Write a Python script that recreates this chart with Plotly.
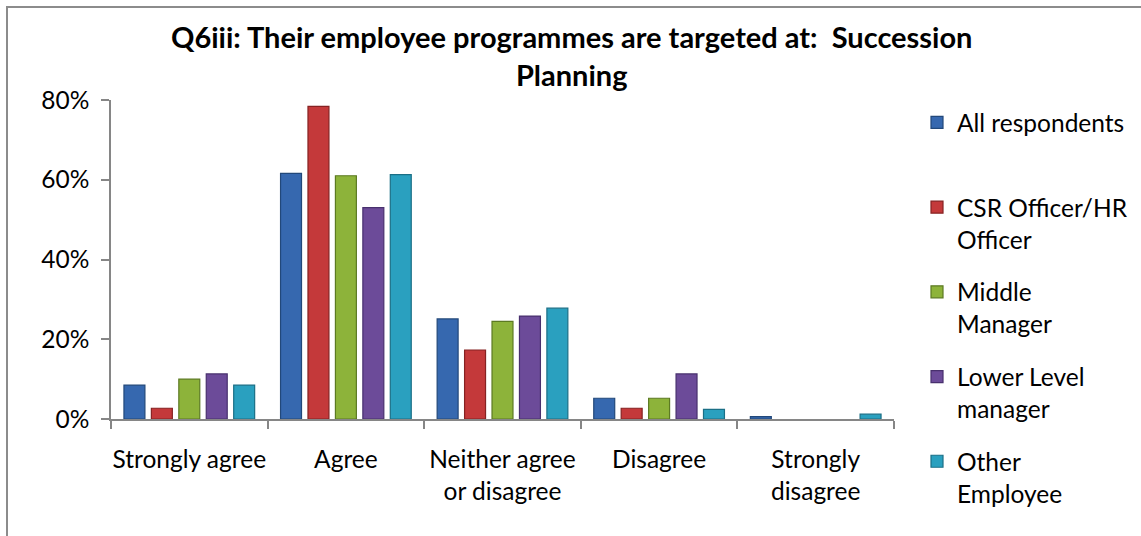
import plotly.graph_objects as go

# Survey answers (share of respondents in each group)
categories = ["Strongly agree", "Agree", "Neither agree or disagree", "Disagree", "Strongly disagree"]
category_labels = ["Strongly agree", "Agree", "Neither agree<br>or disagree", "Disagree", "Strongly<br>disagree"]

groups = ["All respondents", "CSR Officer/HR Officer", "Middle Manager", "Lower Level manager", "Other Employee"]
legend_labels = ["All respondents<br> ", "CSR Officer/HR<br>Officer", "Middle<br>Manager", "Lower Level<br>manager", "Other<br>Employee"]

all_respondents = [0.085, 0.616, 0.251, 0.052, 0.006]
csr_hr_officer = [0.027, 0.784, 0.173, 0.027, 0.0]
middle_manager = [0.100, 0.610, 0.245, 0.052, 0.0]
lower_level_manager = [0.113, 0.530, 0.258, 0.113, 0.0]
other_employee = [0.085, 0.613, 0.278, 0.024, 0.012]

title_text = "Q6iii: Their employee programmes are targeted at:  Succession<br>Planning"

series = [all_respondents, csr_hr_officer, middle_manager, lower_level_manager, other_employee]
fill_colors = ["#3668AF", "#C4393A", "#8DB33A", "#6C4B99", "#2AA0BF"]
edge_colors = ["#22487A", "#862222", "#5C7A22", "#48306E", "#1B6F86"]

W, H = 1141, 536
L, R, T, B = 111, 247, 100, 117
PW, PH = W - L - R, H - T - B
FONT = "Lato, 'Open Sans', sans-serif"
FS = 24.5

fig = go.Figure()
for name, label, vals, fc, ec in zip(groups, legend_labels, series, fill_colors, edge_colors):
    fig.add_trace(go.Bar(
        x=categories, y=vals, name=label, legendgroup=name,
        marker=dict(color=fc, line=dict(color=ec, width=[1.2 if v > 0 else 0 for v in vals])),
        hovertemplate=name + ": %{y:.1%}<extra></extra>",
    ))

fig.update_layout(
    width=W, height=H,
    margin=dict(l=L, r=R, t=T, b=B, autoexpand=False),
    paper_bgcolor="white", plot_bgcolor="white",
    font=dict(family=FONT, size=FS, color="#000000"),
    barmode="group", bargap=0.124, bargroupgap=0.236,
    legend=dict(
        x=(917 - L) / PW, xanchor="left",
        y=1.0, yanchor="top",
        valign="top", tracegroupgap=18, maxheight=H,
        font=dict(family=FONT, size=FS, color="#000000"),
        bgcolor="rgba(0,0,0,0)",
    ),
    showlegend=True,
    annotations=[dict(
        text=title_text, showarrow=False,
        xref="paper", x=(571 - L) / PW, xanchor="center",
        yref="paper", y=1 + (T - 17) / PH, yanchor="top",
        font=dict(family=FONT, size=29, color="#000000", weight="bold"),
    )],
    shapes=[dict(
        type="rect", xref="paper", yref="paper",
        x0=(7 - L) / PW, x1=(W + 20 - L) / PW,
        y0=-(B + 20) / PH, y1=1 + (T - 7) / PH,
        line=dict(color="#8C8C8C", width=2), fillcolor="rgba(0,0,0,0)", layer="below",
    )],
)

fig.update_xaxes(
    tickmode="array", tickvals=categories, ticktext=category_labels,
    showline=True, linecolor="#868686", linewidth=1.5,
    ticks="outside", tickson="boundaries", ticklen=8, tickcolor="#868686", tickwidth=1.5,
    ticklabelstandoff=18, automargin=False,
    showgrid=False, zeroline=False, tickangle=0,
)
fig.update_yaxes(
    range=[0, 0.8], dtick=0.2, tickformat=".0%",
    showline=True, linecolor="#868686", linewidth=1.5,
    ticks="outside", ticklen=8, tickcolor="#868686", tickwidth=1.5,
    ticklabelstandoff=7, automargin=False,
    showgrid=False, zeroline=False,
)

fig.write_html("out.html")
